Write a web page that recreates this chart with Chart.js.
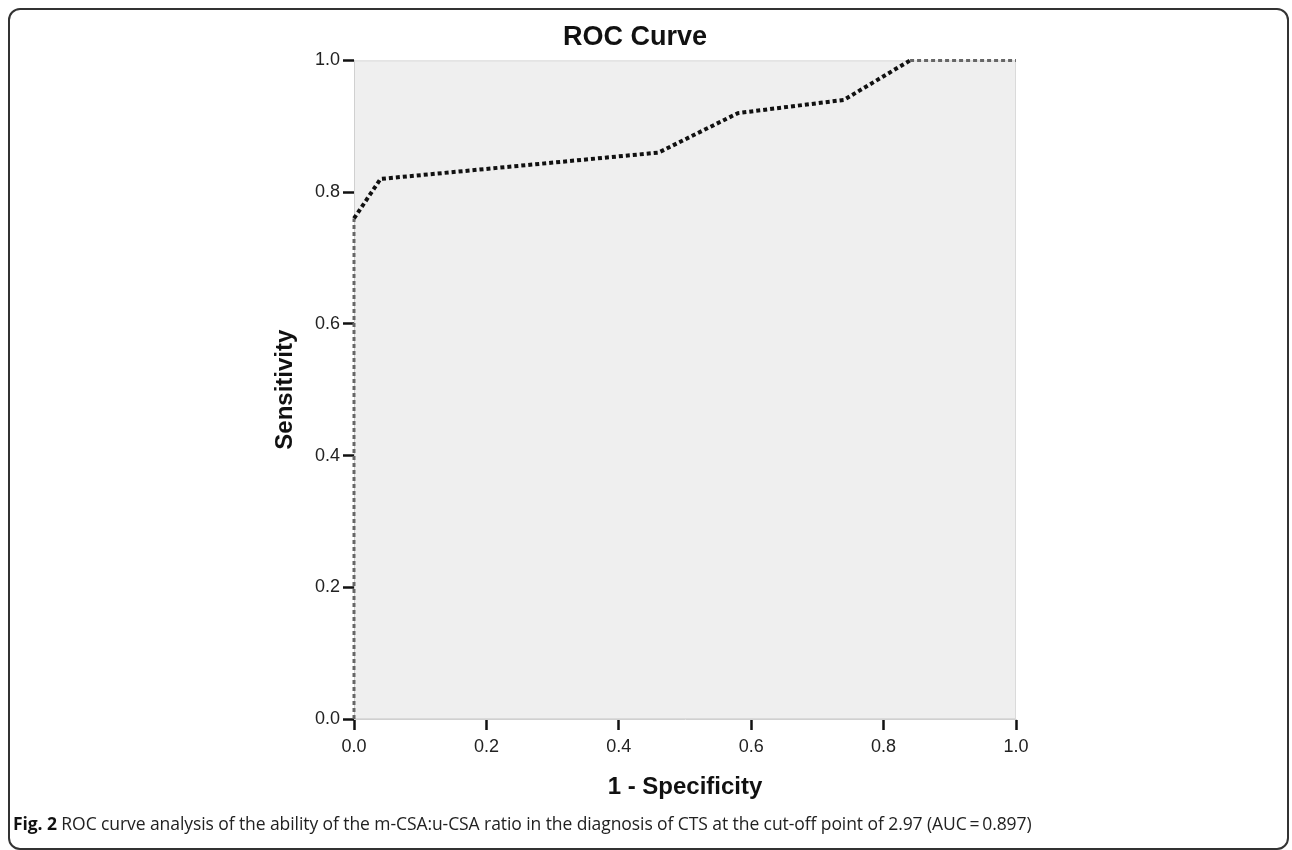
<!DOCTYPE html>
<html>
<head>
<meta charset="utf-8">
<script src="https://cdn.jsdelivr.net/npm/chart.js@4.4.1/dist/chart.umd.min.js"></script>
<style>
  html, body { margin: 0; padding: 0; background: #fff; }
  body { width: 1292px; height: 850px; position: relative; overflow: hidden; }
  #frame {
    position: absolute; left: 8px; top: 8px; width: 1281px; height: 842px;
    border: 2px solid #333; border-radius: 12px; box-sizing: border-box;
  }
  #wrap { position: absolute; left: 0; top: 0; width: 1292px; height: 850px; }
  #caption {
    position: absolute; left: 13px; top: 811px; white-space: nowrap;
    font-family: "Open Sans", sans-serif; font-size: 17.5px; color: #222;
    letter-spacing: -0.08px;
  }
  #caption b { color: #111; }
</style>
</head>
<body>
<div id="frame"></div>
<div id="wrap"><canvas id="chart" width="1292" height="850"></canvas></div>
<div id="caption"><b>Fig. 2</b> ROC curve analysis of the ability of the m-CSA:u-CSA ratio in the diagnosis of CTS at the cut-off point of 2.97 (AUC&#8201;=&#8201;0.897)</div>
<script>
// ROC points (1 - specificity, sensitivity)
var fpr = [0, 0, 0.04, 0.46, 0.58, 0.74, 0.84, 1.0];
var tpr = [0, 0.76, 0.82, 0.86, 0.92, 0.94, 1.0, 1.0];
var tickValues = [0, 0.2, 0.4, 0.6, 0.8, 1.0];

var points = fpr.map(function (x, i) { return { x: x, y: tpr[i] }; });

// light grey plot background with a thin border, like the SPSS output
var plotBackground = {
  id: 'plotBackground',
  beforeDraw: function (chart) {
    var a = chart.chartArea, ctx = chart.ctx;
    ctx.save();
    ctx.fillStyle = '#efefef';
    ctx.fillRect(a.left, a.top, a.right - a.left, a.bottom - a.top);
    ctx.strokeStyle = '#dadada';
    ctx.lineWidth = 1;
    ctx.strokeRect(a.left + 0.5, a.top + 0.5, a.right - a.left - 1, a.bottom - a.top - 1);
    ctx.restore();
  }
};

var ctx = document.getElementById('chart').getContext('2d');
var chart = new Chart(ctx, {
  type: 'line',
  data: {
    datasets: [{
      data: points,
      borderColor: '#111',
      borderWidth: 4,
      borderDash: [4, 3],
      pointRadius: 0,
      tension: 0,
      fill: false,
      clip: 6,
      segment: {
        // the parts lying on the axes look lighter in the original
        borderColor: function (c) {
          return (c.p0.parsed.x === c.p1.parsed.x || c.p0.parsed.y === c.p1.parsed.y) ? '#666' : undefined;
        },
        borderWidth: function (c) {
          return (c.p0.parsed.x === c.p1.parsed.x || c.p0.parsed.y === c.p1.parsed.y) ? 3 : undefined;
        }
      }
    }]
  },
  options: {
    responsive: false,
    animation: false,
    layout: { padding: { left: 254, right: 276, top: 15, bottom: 41 } },
    plugins: {
      legend: { display: false },
      tooltip: { enabled: false },
      title: {
        display: true,
        text: 'ROC Curve',
        color: '#111',
        font: { family: 'Liberation Sans', size: 27, weight: 'bold' },
        padding: { top: 6, bottom: 7 }
      }
    },
    scales: {
      x: {
        type: 'linear',
        min: 0, max: 1,
        afterBuildTicks: function (s) { s.ticks = tickValues.map(function (v) { return { value: v }; }); },
        afterFit: function (s) { s.height = 90; },
        ticks: {
          color: '#222',
          font: { family: 'Liberation Sans', size: 18 },
          padding: 6,
          maxRotation: 0,
          callback: function (v) { return v.toFixed(1); }
        },
        grid: { drawOnChartArea: false, tickLength: 11, tickColor: '#111', tickWidth: 2.5 },
        border: { color: '#d0d0d0', width: 1 },
        title: {
          display: true,
          text: '1 - Specificity',
          color: '#111',
          font: { family: 'Liberation Sans', size: 24, weight: 'bold' },
          padding: { top: 0, bottom: 7 }
        }
      },
      y: {
        type: 'linear',
        min: 0, max: 1,
        afterBuildTicks: function (s) { s.ticks = tickValues.map(function (v) { return { value: v }; }); },
        afterFit: function (s) { s.width = 100; },
        ticks: {
          color: '#222',
          font: { family: 'Liberation Sans', size: 18 },
          padding: 3,
          callback: function (v) { return v.toFixed(1); }
        },
        grid: { drawOnChartArea: false, tickLength: 11, tickColor: '#111', tickWidth: 2.5 },
        border: { color: '#d0d0d0', width: 1 },
        title: {
          display: true,
          text: 'Sensitivity',
          color: '#111',
          font: { family: 'Liberation Sans', size: 24, weight: 'bold' },
          padding: { top: 17, bottom: 0 }
        }
      }
    }
  },
  plugins: [plotBackground]
});
</script>
</body>
</html>
